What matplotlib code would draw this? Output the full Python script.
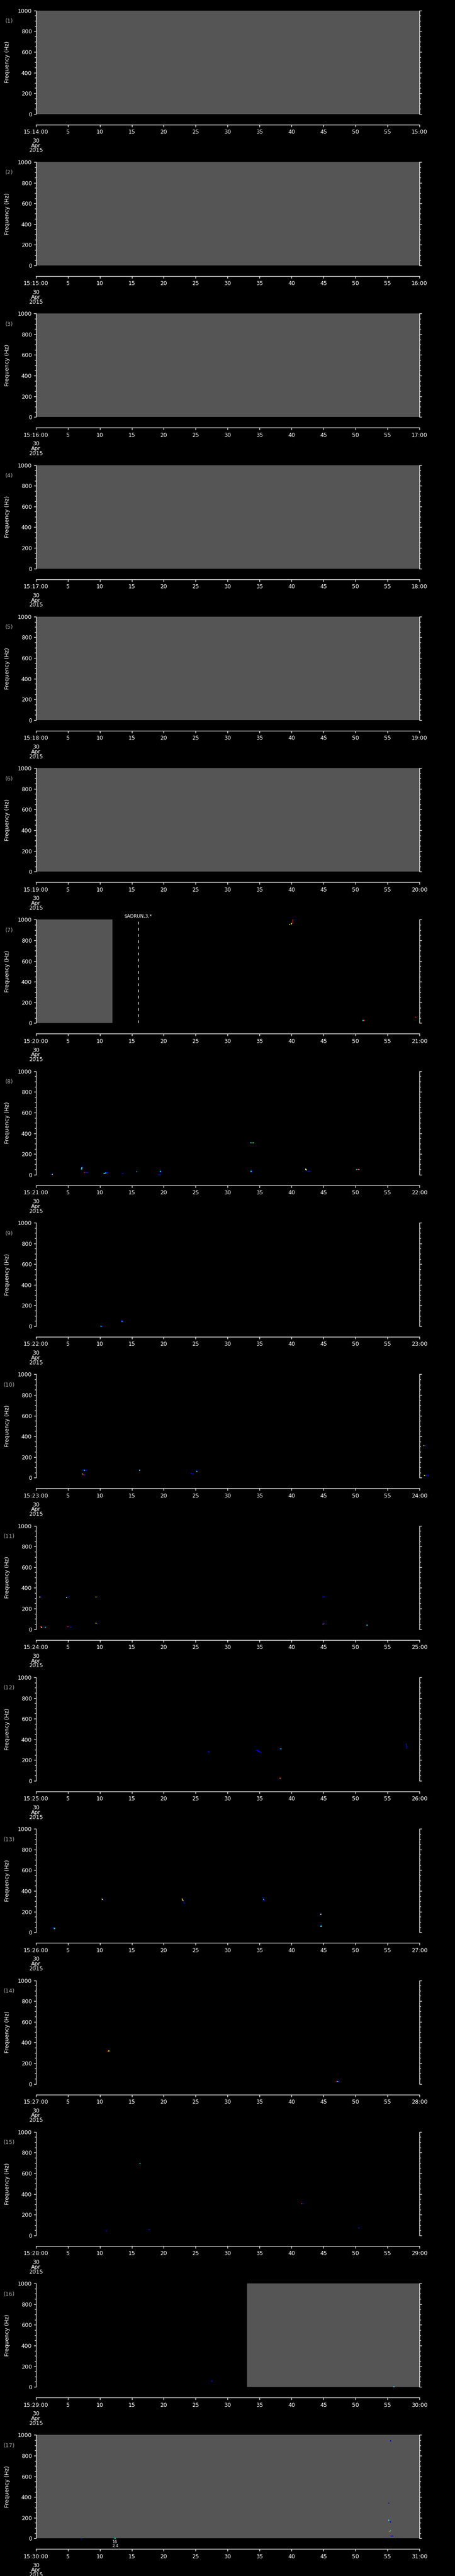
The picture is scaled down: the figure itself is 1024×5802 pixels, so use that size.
import matplotlib
matplotlib.use("Agg")
import matplotlib.pyplot as plt
from matplotlib.ticker import MultipleLocator, FixedLocator

plt.rcParams['font.family'] = ['DejaVu Sans']

# 17 one-minute panels starting at 15:14 on 30 Apr 2015
start_minute = list(range(14, 31))

# data gaps (grey): panel number, start s, end s
gap_panel = [1, 2, 3, 4, 5, 6, 7, 16, 17]
gap_start = [0, 0, 0, 0, 0, 0, 0, 33.0, 0]
gap_end = [60, 60, 60, 60, 60, 60, 12.0, 60, 60]

# spectrogram pixels: panel, seconds after start, frequency (Hz), level (0-1)
ev_panel = [7, 7, 7, 7, 7, 7, 7, 7, 7, 7,
            8, 8, 8, 8, 8, 8, 8, 8, 8, 8, 8, 8, 8, 8, 8, 8, 8, 8, 8, 8, 8, 8, 8, 8, 8, 8, 8, 8, 8,
            9, 9, 9, 9, 9,
            10, 10, 10, 10, 10, 10, 10, 10, 10, 10, 10, 10, 10, 10, 10, 10,
            11, 11, 11, 11, 11, 11, 11, 11, 11, 11, 11, 11, 11, 11, 11, 11, 11, 11, 11,
            12, 12, 12, 12, 12, 12, 12, 12, 12, 12, 12, 12, 12,
            13, 13, 13, 13, 13, 13, 13, 13, 13, 13, 13, 13, 13, 13, 13, 13,
            14, 14, 14, 14, 14,
            15, 15, 15, 15, 15, 15,
            16, 16,
            17, 17, 17, 17, 17, 17, 17, 17, 17, 17, 17]
ev_time = [39.7, 40.0, 40.2, 40.2, 40.2, 40.2, 40.4, 51.2, 51.35, 59.4,
           2.4, 2.6, 7.15, 7.2, 7.3, 7.6, 7.9, 8.1, 10.7, 10.9, 11.1, 11.3, 13.6, 15.8, 19.2, 19.4,
           19.5, 19.6, 33.6, 33.8, 34.0, 33.7, 33.8, 42.2, 42.3, 42.6, 42.8, 50.2, 50.5,
           10.2, 10.4, 13.4, 13.5, 13.6,
           7.4, 7.6, 7.9, 7.3, 7.4, 7.6, 16.2, 24.3, 24.6, 25.1, 25.2, 60.7, 60.9, 60.8, 61.1, 61.4,
           0.6, 0.8, 0.75, 0.9, 1.2, 1.5, 4.8, 5.1, 5.0, 5.4, 9.4, 9.7, 9.4, 9.6, 44.9, 45.1, 44.9,
           45.1, 51.8,
           27.1, 27.0, 34.6, 34.8, 35.0, 35.2, 38.1, 38.3, 38.2, 57.9, 57.9, 58.0, 58.0,
           2.7, 2.9, 10.3, 10.4, 10.5, 22.9, 23.0, 23.1, 23.2, 35.5, 35.6, 35.7, 44.6, 44.7, 44.7, 44.6,
           11.2, 11.4, 47.0, 47.2, 47.4,
           16.3, 11.0, 17.7, 41.6, 41.8, 50.5,
           27.5, 56.0,
           55.5, 55.2, 55.2, 55.4, 55.5, 55.3, 55.5, 55.6, 55.8, 7.1, 12.4]
ev_freq = [955, 962, 965, 975, 985, 995, 998, 26, 26, 59,
           3, 3, 55, 65, 72, 20, 20, 20, 11, 16, 19, 19, 11, 29, 0, 0,
           31, 27, 308, 308, 308, 31, 27, 52, 47, 34, 34, 50, 50,
           0, 0, 49, 45, 42,
           72, 72, 72, 36, 30, 26, 72, 39, 36, 69, 61, 310, 310, 23, 21, 21,
           311, 311, 23, 21, 20, 20, 308, 311, 23, 20, 311, 311, 59, 54, 311, 311, 51,
           54, 40,
           278, 283, 293, 286, 280, 275, 310, 310, 25, 355, 345, 330, 318,
           43, 37, 329, 318, 305, 321, 310, 297, 285, 336, 318, 308, 175, 175, 69, 59,
           316, 318, 23, 23, 21,
           695, 43, 56, 309, 309, 73,
           57, 1,
           944, 342, 175, 165, 156, 65, 74, 23, 22, 0, 0]
ev_level = [0.65, 0.65, 0.92, 0.92, 0.92, 0.92, 0.12, 0.35, 0.92, 0.92,
            0.12, 0.35, 0.35, 0.35, 0.12, 0.92, 0.12, 0.12, 0.35, 0.35, 0.12, 0.12, 0.12, 0.35, 0.12, 0.12,
            0.35, 0.12, 0.35, 0.65, 0.35, 0.35, 0.12, 0.65, 0.55, 0.12, 0.12, 0.35, 0.8,
            0.35, 0.12, 0.12, 0.35, 0.12,
            0.12, 0.35, 0.12, 0.55, 0.92, 0.12, 0.35, 0.12, 0.12, 0.12, 0.35, 0.65, 0.12, 0.65, 0.12, 0.12,
            0.65, 0.12, 0.92, 0.65, 0.12, 0.35, 0.55, 0.12, 0.92, 0.12, 0.65, 0.12, 0.65, 0.12, 0.12, 0.12,
            0.8, 0.12, 0.35,
            0.12, 0.12, 0.12, 0.12, 0.12, 0.12, 0.12, 0.35, 0.8, 0.12, 0.12, 0.12, 0.12,
            0.12, 0.35, 0.12, 0.65, 0.12, 0.65, 0.65, 0.12, 0.12, 0.12, 0.35, 0.12, 0.65, 0.12, 0.12, 0.35,
            0.92, 0.65, 0.92, 0.35, 0.12,
            0.35, 0.12, 0.12, 0.92, 0.12, 0.12,
            0.12, 0.35,
            0.12, 0.12, 0.35, 0.12, 0.12, 0.8, 0.35, 0.12, 0.12, 0.12, 0.35]

W, H = 1024, 5802
fig = plt.figure(figsize=(W / 100, H / 100), dpi=100, facecolor='black')

n = len(start_minute)
pitch = H / n
for i, m in enumerate(start_minute):
    num = i + 1
    top = i * pitch + 23.7
    ax = fig.add_axes([80.7 / W, 1 - (top + 233) / H, 863.3 / W, 233 / H])
    ax.set_facecolor('black')
    ax.set_xlim(0, 60)
    ax.set_ylim(0, 1000)

    for p, s, e in zip(gap_panel, gap_start, gap_end):
        if p == num:
            ax.axvspan(s, e, color='#555555', lw=0, zorder=0)

    ts = [t for p, t in zip(ev_panel, ev_time) if p == num]
    fs = [f for p, f in zip(ev_panel, ev_freq) if p == num]
    vs = [v for p, v in zip(ev_panel, ev_level) if p == num]
    if ts:
        ax.scatter(ts, fs, c=vs, cmap='jet', vmin=0, vmax=1, marker='s', s=3,
                   linewidths=0, clip_on=False, zorder=3)

    # axes styling
    ax.spines['top'].set_visible(False)
    for side in ['left', 'right', 'bottom']:
        ax.spines[side].set_color('white')
        ax.spines[side].set_linewidth(1.0)
    ax.spines['bottom'].set_position(('outward', 17.3))

    ax.yaxis.set_major_locator(MultipleLocator(200))
    ax.yaxis.set_minor_locator(MultipleLocator(50))
    ax.tick_params(axis='y', which='both', direction='out', left=True, right=True,
                   labelright=False, colors='white', labelsize=9, pad=3)
    ax.tick_params(axis='y', which='major', length=3.5, width=1)
    ax.tick_params(axis='y', which='minor', length=2.5, width=1)

    xt = list(range(0, 61, 5))
    ax.xaxis.set_major_locator(FixedLocator(xt))
    labels = ['15:%02d:00' % m] + [str(v) for v in xt[1:-1]] + ['%02d:00' % (m + 1)]
    ax.set_xticklabels(labels)
    ax.tick_params(axis='x', which='major', direction='out', length=3.5, width=1,
                   colors='white', labelsize=9, pad=4)

    ax.annotate('30\nApr\n2015', xy=(0, 0), xycoords=('data', 'axes fraction'),
                xytext=(0, -39), textcoords='offset points', ha='center', va='top',
                color='white', fontsize=9, linespacing=0.78)

    ax.set_ylabel('Frequency (Hz)', color='white', fontsize=9, labelpad=22)
    ax.yaxis.set_label_coords(-57.7 / 863.3, 0.5)
    ax.text(-59.7 / 863.3, 1 - 24 / 233, '(%d)' % num, transform=ax.transAxes,
            ha='center', va='center', color='#aaaaaa', fontsize=9)

    if num == 7:
        ax.axvline(16, ymin=0, ymax=0.985, color='white', lw=1, ls=(0, (4.5, 5.5)))
        ax.annotate('$ADRUN,3,*', xy=(16, 1), xycoords=('data', 'axes fraction'),
                    xytext=(0, 6), textcoords='offset points', ha='center', va='center',
                    color='white', fontsize=7.5)
    if num == 17:
        ax.annotate('16\n2.4', xy=(12.4, 0), xycoords=('data', 'axes fraction'),
                    xytext=(0, -2.5), textcoords='offset points', ha='center', va='top',
                    color='white', fontsize=6.5, linespacing=0.95)

fig.savefig('out.png', dpi=100, facecolor='black')
